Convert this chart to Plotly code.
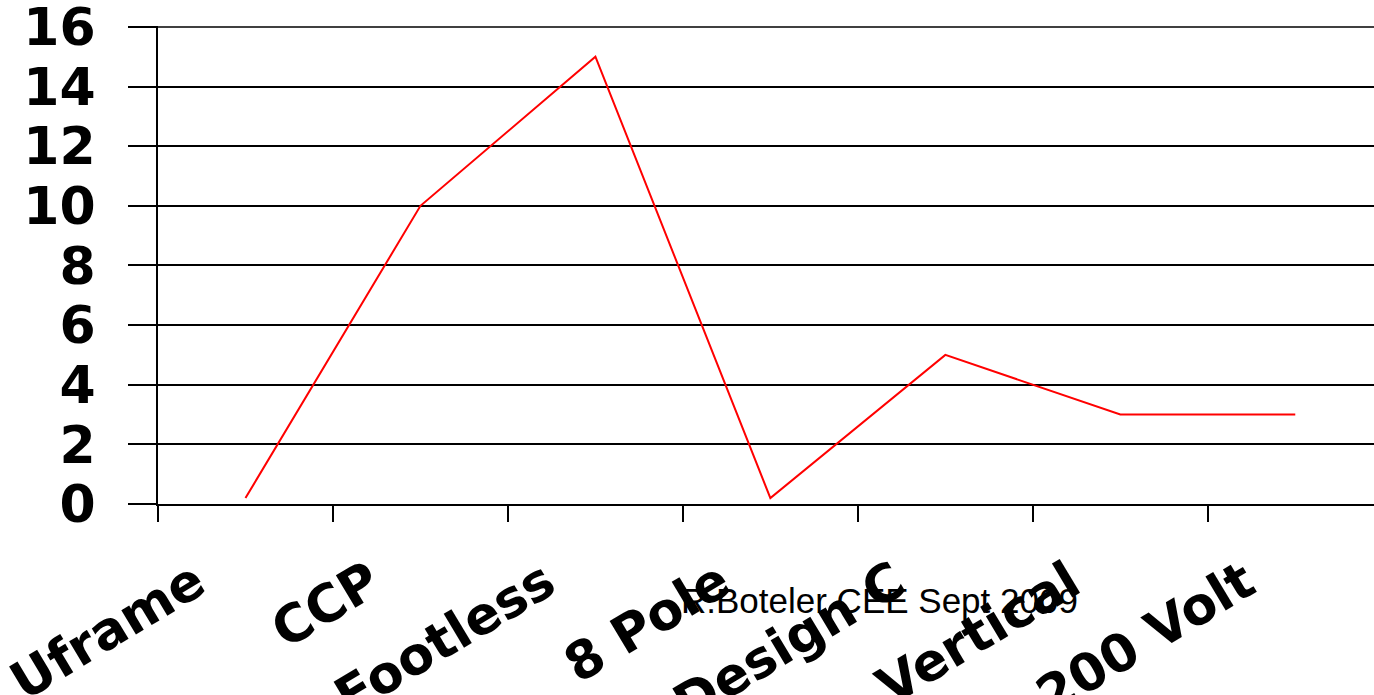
import plotly.graph_objects as go

categories = ["Uframe", "CCP", "Footless", "8 Pole", "Design C", "Vertical", "200 Volt"]
values = [0.2, 10, 15, 0.2, 5, 3, 3]
y_ticks = [0, 2, 4, 6, 8, 10, 12, 14, 16]
note_text = "R.Boteler CEE Sept 2009"

W, H = 1374, 695
L, R, T, B = 158, 0, 26, 191

fig = go.Figure()
fig.add_trace(go.Scatter(
    x=categories, y=values, mode="lines",
    line=dict(color="#ff0000", width=2),
    showlegend=False, hoverinfo="skip",
))

fig.update_layout(
    width=W, height=H,
    margin=dict(l=L, r=R, t=T, b=B, autoexpand=False),
    paper_bgcolor="white", plot_bgcolor="white",
    xaxis=dict(
        type="category", categoryorder="array", categoryarray=categories,
        range=[-0.5, 6.45], tickson="boundaries",
        ticks="outside", ticklen=16, tickwidth=2, tickcolor="black",
        showline=True, linecolor="black", linewidth=2,
        showgrid=False, zeroline=False, automargin=False,
        tickangle=-31, ticklabelshift=-50, ticklabelstandoff=26,
        ticklabeloverflow="allow",
        tickfont=dict(family="DejaVu Sans", size=52, color="black", weight="bold"),
    ),
    yaxis=dict(
        range=[0, 16.03], tickvals=y_ticks, ticktext=[str(v) for v in y_ticks],
        ticks="outside", ticklen=28, tickwidth=1.5, tickcolor="black",
        showline=True, linecolor="black", linewidth=2,
        showgrid=True, gridcolor="black", gridwidth=1.5,
        zeroline=False, automargin=False, ticklabelstandoff=22,
        ticklabeloverflow="allow",
        tickfont=dict(family="DejaVu Sans", size=52, color="black", weight="bold"),
    ),
)

# top gridline (Plotly drops a gridline sitting on the plot edge)
fig.add_shape(type="line", xref="paper", yref="y", x0=0, x1=1,
              y0=y_ticks[-1], y1=y_ticks[-1],
              line=dict(color="black", width=1.5), layer="below")

fig.add_annotation(
    text=note_text, xref="paper", yref="paper",
    x=(879 - L) / (W - L - R), y=(H - B - 600) / (H - B - T),
    xanchor="center", yanchor="middle", showarrow=False,
    font=dict(family="Liberation Sans, Arial", size=35, color="black"),
)

fig.write_html("out.html")
